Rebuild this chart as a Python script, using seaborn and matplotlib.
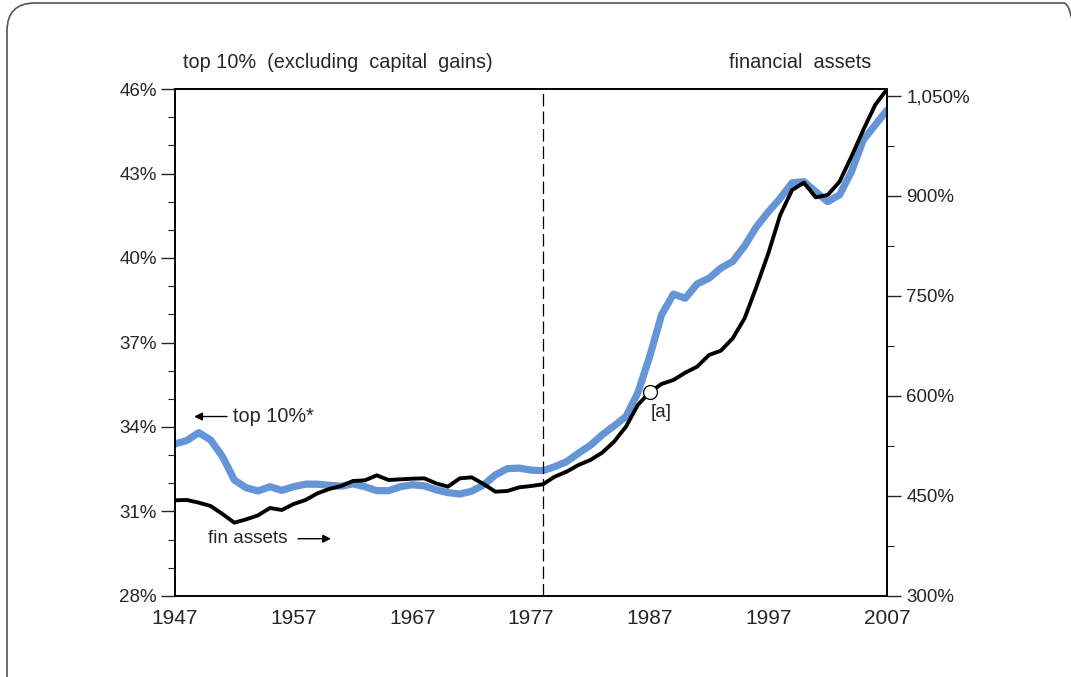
import numpy as np
import matplotlib
matplotlib.use("Agg")
import matplotlib.pyplot as plt
import seaborn as sns
from matplotlib.patches import FancyBboxPatch
from matplotlib.transforms import IdentityTransform
from matplotlib.ticker import FuncFormatter

# --- DATA ---
years = list(range(1947, 2008))

# top 10% income share, excluding capital gains (left axis, %)
top10_share = [
    33.40, 33.52, 33.80, 33.54, 32.95, 32.12, 31.84, 31.73, 31.88, 31.75,
    31.88, 31.97, 31.97, 31.93, 31.90, 31.98, 31.88, 31.74, 31.74, 31.88,
    31.95, 31.91, 31.77, 31.67, 31.62, 31.72, 31.94, 32.30, 32.52, 32.54,
    32.47, 32.45, 32.59, 32.77, 33.07, 33.35, 33.72, 34.04, 34.37, 35.21,
    36.50, 37.98, 38.72, 38.57, 39.08, 39.28, 39.64, 39.88, 40.43, 41.11,
    41.64, 42.12, 42.67, 42.71, 42.35, 42.00, 42.24, 43.06, 44.19, 44.72,
    45.25,
]

# financial assets (right axis, %)
fin_assets = [
    443.6, 444.0, 440.0, 435.0, 423.0, 410.0, 415.0, 421.0, 432.0, 429.0,
    438.0, 444.0, 454.0, 460.5, 465.0, 472.5, 473.5, 481.0, 474.0, 475.0,
    476.0, 476.5, 469.0, 464.0, 476.5, 478.0, 468.0, 456.5, 457.5, 463.0,
    465.0, 467.5, 479.0, 486.5, 496.5, 504.0, 515.0, 531.5, 554.0, 586.5,
    605.5, 618.0, 624.0, 635.0, 644.0, 661.5, 668.0, 686.5, 716.5, 764.0,
    814.0, 871.5, 909.0, 920.0, 898.0, 901.5, 921.5, 959.0, 999.0, 1036.5,
    1060.0,
]

x_ticks = list(range(1947, 2008, 10))
left_ticks = [28, 31, 34, 37, 40, 43, 46]
right_ticks = [300, 450, 600, 750, 900, 1050]
break_year = 1978
marker_year = 1987

# --- STYLE ---
sns.set_style("white")
plt.rcParams['font.family'] = ['Liberation Sans', 'DejaVu Sans']
blue = '#6495d6'

fig = plt.figure(figsize=(10.71, 6.77), dpi=100)
ax = fig.add_axes([175 / 1071, 1 - 596 / 677, 712 / 1071, 507 / 677])

# rounded frame around the figure (runs off the bottom/right edge)
frame = FancyBboxPatch((7, -40), 1085, 677 - 3 + 40, boxstyle="round,pad=0,rounding_size=28",
                       transform=IdentityTransform(), facecolor='none', edgecolor='#555555',
                       linewidth=1.2, clip_on=False)
fig.add_artist(frame)

sns.lineplot(x=years, y=top10_share, ax=ax, color=blue, linewidth=5.2, solid_capstyle='round')
ax.set_xlim(1947, 2007)
ax.set_ylim(28, 46)

ax2 = ax.twinx()
sns.lineplot(x=years, y=fin_assets, ax=ax2, color='black', linewidth=2.8)
ax2.set_ylim(300, 300 + 507 * 1.5)

ax.axvline(break_year, color='black', linewidth=0.9, dashes=(10, 4))

# open circle marker [a]
i = years.index(marker_year)
ax2.plot(marker_year, fin_assets[i], 'o', markersize=10, markerfacecolor='white',
         markeredgecolor='black', markeredgewidth=0.9, zorder=5)
ax2.annotate('[a]', xy=(marker_year, fin_assets[i]), xytext=(8.5, -14.5),
             textcoords='offset points', ha='center', va='center', fontsize=13.5)

# axes / spines
for a in (ax, ax2):
    for s in a.spines.values():
        s.set_color('black')
        s.set_linewidth(1.2)
    a.set_xlabel('')
    a.set_ylabel('')

ax.set_xticks(x_ticks)
ax.set_xticks(years, minor=True)
ax.set_xticklabels([str(y) for y in x_ticks], fontsize=15)
ax.tick_params(axis='x', which='major', direction='inout', length=17, width=1.0, pad=1)
ax.tick_params(axis='x', which='minor', direction='in', length=6, width=0.8)

ax.set_yticks(left_ticks)
ax.set_yticks(range(28, 47), minor=True)
ax.yaxis.set_major_formatter(FuncFormatter(lambda v, p: f"{v:.0f}%"))
ax.tick_params(axis='y', which='major', direction='out', length=10, width=1.0, labelsize=13.5, pad=3)
ax.tick_params(axis='y', which='minor', direction='out', length=5, width=0.8)

ax2.set_yticks(right_ticks)
ax2.set_yticks(range(300, 1051, 75), minor=True)
ax2.yaxis.set_major_formatter(FuncFormatter(lambda v, p: f"{v:,.0f}%"))
ax2.tick_params(axis='y', which='major', direction='out', length=10, width=1.0, labelsize=13.5, pad=4)
ax2.tick_params(axis='y', which='minor', direction='out', length=5, width=0.8)

# headings above the plot
ax.text(0.011, 1.053, 'top 10%  (excluding  capital  gains)', transform=ax.transAxes,
        ha='left', va='center', fontsize=14.3)
ax.text(0.9775, 1.053, 'financial  assets', transform=ax.transAxes,
        ha='right', va='center', fontsize=14.3)

# in-plot labels with arrows
ax.text(0.0815, 0.355, 'top 10%*', transform=ax.transAxes, ha='left', va='center', fontsize=14.3)
ax.annotate('', xy=(0.023, 0.354), xytext=(0.077, 0.354), xycoords='axes fraction',
            arrowprops=dict(arrowstyle='-|>', color='black', lw=1.0, mutation_scale=12))
ax.text(0.047, 0.114, 'fin assets', transform=ax.transAxes, ha='left', va='center', fontsize=13.7)
ax.annotate('', xy=(0.223, 0.113), xytext=(0.169, 0.113), xycoords='axes fraction',
            arrowprops=dict(arrowstyle='-|>', color='black', lw=1.0, mutation_scale=12))

fig.savefig('out.png', dpi=100)
